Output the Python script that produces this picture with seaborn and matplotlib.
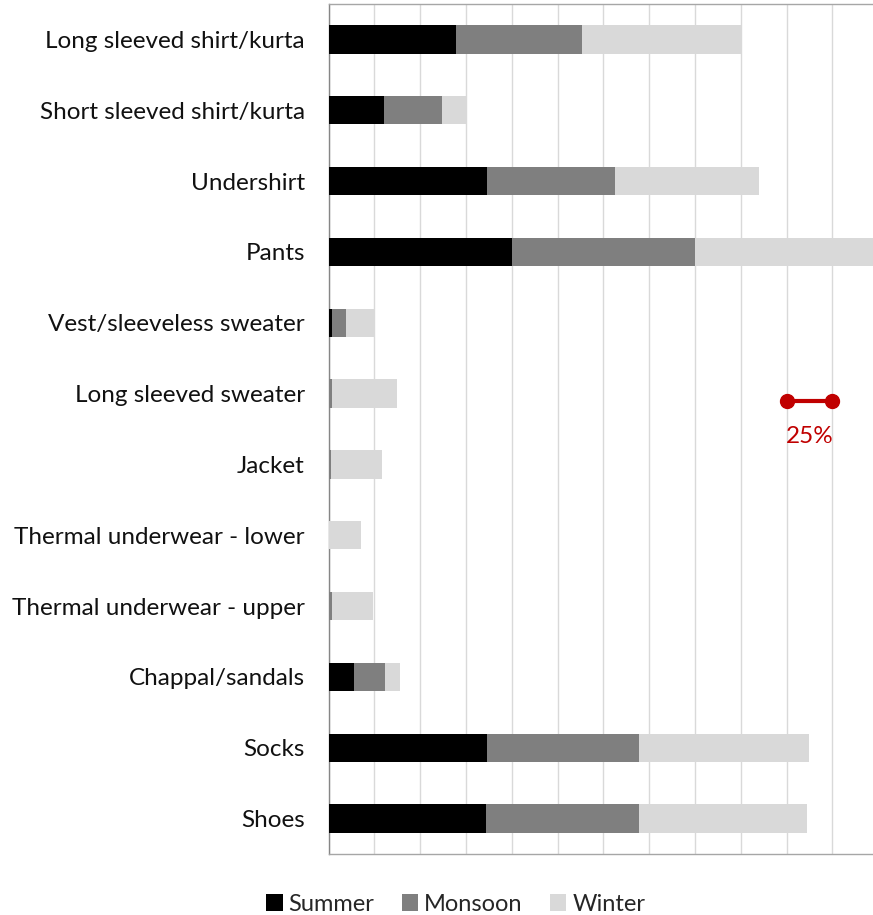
import numpy as np
import matplotlib.pyplot as plt
import seaborn as sns
from matplotlib.patches import Patch

items = [
    "Long sleeved shirt/kurta",
    "Short sleeved shirt/kurta",
    "Undershirt",
    "Pants",
    "Vest/sleeveless sweater",
    "Long sleeved sweater",
    "Jacket",
    "Thermal underwear - lower",
    "Thermal underwear - upper",
    "Chappal/sandals",
    "Socks",
    "Shoes",
]
summer = [69.8, 30.4, 86.3, 100.0, 1.8, 0.0, 0.0, 0.0, 0.0, 14.0, 86.7, 86.1]
monsoon = [68.8, 31.3, 69.9, 100.0, 7.6, 2.0, 1.5, 0.0, 2.0, 16.9, 83.0, 83.2]
winter = [86.4, 13.3, 78.6, 100.0, 15.6, 35.5, 27.8, 17.5, 22.4, 8.3, 92.5, 91.9]

seasons = ["Summer", "Monsoon", "Winter"]
colors = ["#000000", "#7f7f7f", "#d9d9d9"]

sns.set_theme(style="white")
plt.rcParams["font.family"] = ["Lato", "DejaVu Sans"]

fig = plt.figure(figsize=(8.73, 9.15), dpi=100)
ax = fig.add_axes([0.3763, 0.0667, 0.6237, 0.9289])

cum1 = np.array(summer)
cum2 = cum1 + np.array(monsoon)
cum3 = cum2 + np.array(winter)

# stack by overdrawing cumulative totals
for vals, col in zip([cum3, cum2, cum1], colors[::-1]):
    sns.barplot(x=vals, y=items, color=col, width=0.4, linewidth=0,
                saturation=1, ax=ax, zorder=3)

ax.set_xlim(0, 297.2)
ax.set_xticks(np.arange(0, 300, 25))
ax.set_xticklabels([])
ax.tick_params(axis="both", length=0)
ax.tick_params(axis="y", labelsize=17.5, pad=17, labelcolor="#111111")
ax.xaxis.grid(True, color="#d9d9d9", linewidth=1, zorder=0)
ax.yaxis.grid(False)
ax.set_xlabel("")
ax.set_ylabel("")
for side in ["left", "bottom", "top"]:
    ax.spines[side].set_color("#a6a6a6")
    ax.spines[side].set_linewidth(1)
ax.spines["left"].set_color("#868686")
ax.spines["right"].set_visible(False)
ax.set_ylim(11.5, -0.5)

# 25% scale marker
ax.plot([250, 275], [5.1, 5.1], color="#c00000", linewidth=3,
        marker="o", markersize=10, zorder=5, clip_on=False)
ax.text(262.5, 5.6, "25%", color="#c00000", fontsize=17.5,
        ha="center", va="center", zorder=5)

handles = [Patch(facecolor=c, edgecolor="none") for c in colors]
fig.legend(handles, seasons, loc="center", bbox_to_anchor=(0.522, 0.012),
           ncol=3, frameon=False, fontsize=17, handlelength=0.7,
           handleheight=0.7, handletextpad=0.25, columnspacing=1.15)

fig.savefig("out.png", dpi=100)
